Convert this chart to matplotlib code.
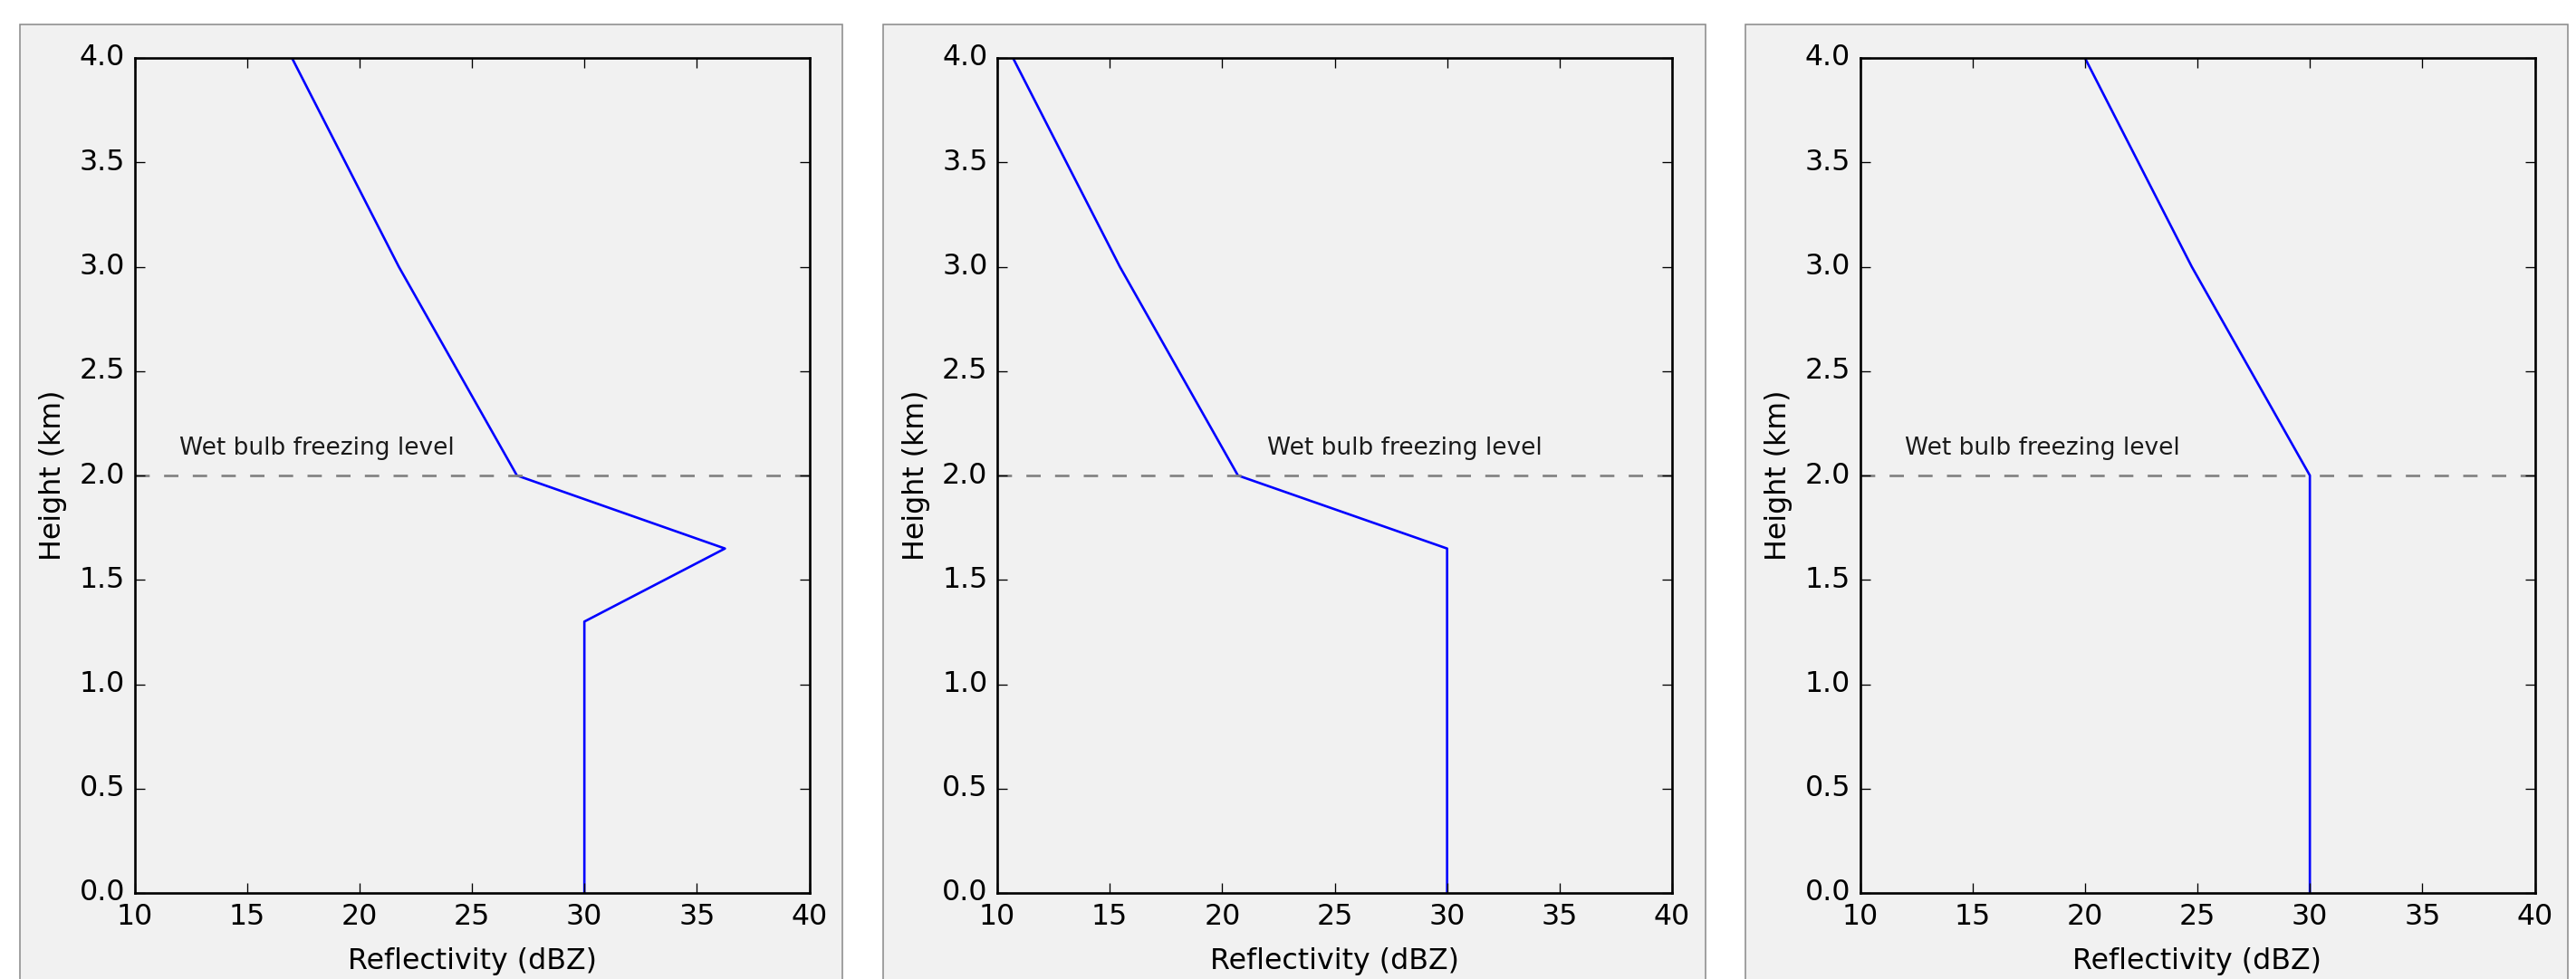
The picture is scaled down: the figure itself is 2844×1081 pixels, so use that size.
import numpy as np
import matplotlib
matplotlib.use('Agg')
import matplotlib.pyplot as plt
from matplotlib.patches import Rectangle

# heights (km) and reflectivity (dBZ) for the three profiles
height_1=[4.0, 3.0, 2.0, 1.65, 1.3, 0.0]
refl_1=[17.0, 21.75, 27.0, 36.25, 30.0, 30.0]

height_2=[4.0, 3.0, 2.0, 1.65, 0.0]
refl_2=[10.7, 15.45, 20.7, 30.0, 30.0]

height_3=[4.0, 3.0, 2.0, 0.0]
refl_3=[20.0, 24.75, 30.0, 30.0]

FREEZING=2.0
LABEL_X=[12, 22, 12]
LABEL='Wet bulb freezing level'

profiles=[(refl_1, height_1), (refl_2, height_2), (refl_3, height_3)]

plt.style.use('classic')
W, H, DPI=2844, 1081, 190
BG='#f1f1f1'

fig=plt.figure(figsize=(W/DPI, H/DPI), dpi=DPI, facecolor='white')

STEP=952.5
for k, (refl, hgt) in enumerate(profiles):
  off=k*STEP
  # panel background box
  fig.patches.append(Rectangle(((22+off)/W, -0.1), 908/W, 1.1-27/H,
                               transform=fig.transFigure, facecolor=BG,
                               edgecolor='#8c8c8c', linewidth=0.6, zorder=-5))
  ax=fig.add_axes(((148.5+off)/W, (H-986)/H, 745/W, 922/H))
  ax.set_facecolor(BG)
  ax.plot(refl, hgt, color='b', linewidth=1.0)
  ax.axhline(FREEZING, color='gray', linestyle='--', linewidth=1.0, dashes=(6, 6))
  ax.text(LABEL_X[k], FREEZING+0.1, LABEL, fontsize=10, color='#1a1a1a')
  ax.set_xlim(10, 40)
  ax.set_ylim(0, 4)
  ax.set_xticks(np.arange(10, 41, 5))
  ax.set_yticks(np.arange(0, 4.01, 0.5))
  ax.set_xlabel('Reflectivity (dBZ)', labelpad=7)
  ax.set_ylabel('Height (km)')

fig.savefig('out.png', dpi=DPI, facecolor='white')
